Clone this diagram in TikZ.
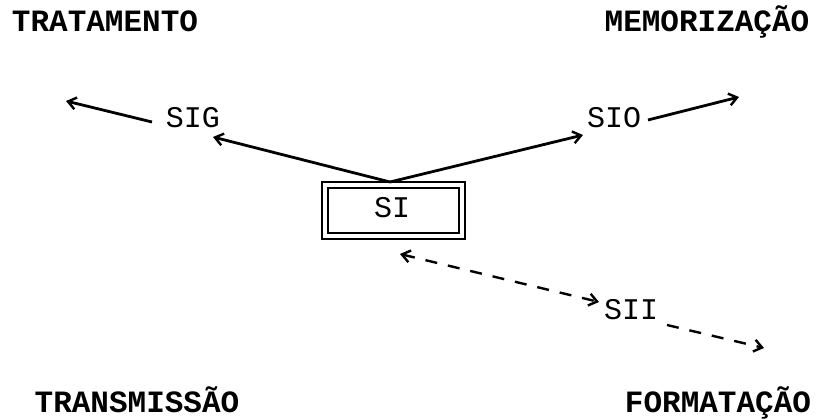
\documentclass[tikz,border=0pt]{standalone}
\usepackage{fontspec}
\setmonofont{Liberation Mono}
\usetikzlibrary{arrows.meta}
\begin{document}
\begin{tikzpicture}[x=1pt,y=-1pt,
  >={Straight Barb[length=8pt,width=12pt,line width=2.4pt]},
  corner/.style={font=\fontsize{31}{31}\selectfont\ttfamily\bfseries, inner sep=0pt, anchor=base},
  sublabel/.style={font=\fontsize{30}{30}\selectfont\ttfamily, inner sep=0pt, anchor=base},
  arr/.style={line width=2.8pt, ->},
  dsh/.style={line width=2.4pt, dash pattern=on 12pt off 11pt},
  darr/.style={dsh, <->},
  dlin/.style={dsh, ->},
  sibox/.style={draw, double, double distance=3.4pt, line width=2.2pt,
    minimum width=137pt, minimum height=51pt, inner sep=0pt}]
\fill[white] (0,0) rectangle (819,419);
\useasboundingbox (0,0) rectangle (819,419);

% four corner functions
\node[corner] (trat) at (105,32) {TRATAMENTO};
\node[corner] (memo) at (707,32) {MEMORIZAÇÃO};
\node[corner] (trans) at (137,412) {TRANSMISSÃO};
\node[corner] (form) at (718,412) {FORMATAÇÃO};

% central system and sub-systems
\node[sibox] (si) at (393.5,210.5) {};
\node[sublabel] (silab) at (392,218) {SI};
\node[sublabel] (sig) at (193,128) {SIG};
\node[sublabel] (sio) at (614,128) {SIO};
\node[sublabel] (sii) at (631,320) {SII};

% connector ends
\coordinate (apex) at (390,182);
\coordinate (sigin) at (213,137);
\coordinate (sigout) at (152,122);
\coordinate (tratend) at (66,101);
\coordinate (sioin) at (583,135);
\coordinate (sioout) at (648,120);
\coordinate (memoend) at (739,97);
\coordinate (sibot) at (400,254);
\coordinate (siiin) at (599,302);
\coordinate (siiout) at (667,325);
\coordinate (formend) at (764,348);

\draw[arr] (apex) -- (sigin);
\draw[arr] (sigout) -- (tratend);
\draw[arr] (apex) -- (sioin);
\draw[arr] (sioout) -- (memoend);
\draw[darr] (sibot) -- (siiin);
\draw[dlin] (siiout) -- (formend);
\end{tikzpicture}
\end{document}
